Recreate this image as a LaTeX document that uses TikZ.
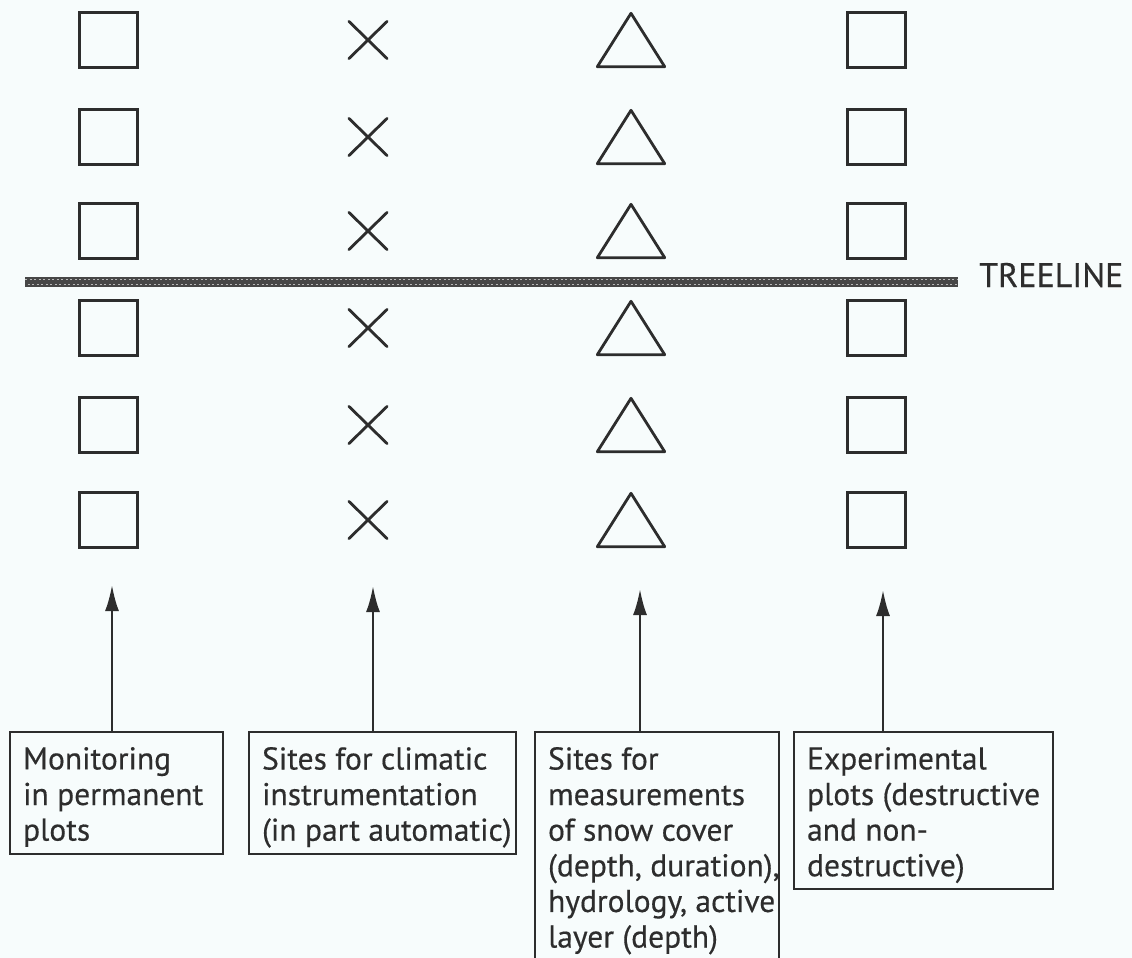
\documentclass[tikz,border=0pt]{standalone}
\usepackage{fontspec}
\setmainfont{PT Sans}[FakeBold=0.4]
\usetikzlibrary{arrows.meta}
\definecolor{ink}{RGB}{45,45,45}
\definecolor{paper}{RGB}{247,252,252}
\begin{document}
\begin{tikzpicture}[x=1pt,y=-1pt,
  sq/.style={draw=ink, line width=3pt, minimum width=58pt, minimum height=55pt, inner sep=0pt},
  crs/.style={minimum width=38pt, minimum height=37pt, inner sep=0pt},
  tri/.style={minimum width=67pt, minimum height=53pt, inner sep=0pt},
  symline/.style={draw=ink, line width=2.8pt, line cap=round, line join=round},
  lbl/.style={draw=ink, line width=2.2pt, anchor=north west, inner xsep=13pt, inner ysep=15pt, text=ink, font=\fontsize{31.5}{35.6}\selectfont},
  arr/.style={draw=ink, line width=2.4pt, -{Latex[length=26pt,width=14pt]}}
]
\fill[paper] (0,0) rectangle (1132,958);
\useasboundingbox (0,0) rectangle (1132,958);
\clip (0,0) rectangle (1132,958);

% symbols
\foreach \r/\y in {1/40,2/137,3/231,4/328,5/425,6/520}{
  \node[sq] (a\r) at (108,\y) {};
  \node[crs] (b\r) at (368,\y) {};
  \node[tri] (c\r) at (631,\y) {};
  \node[sq] (d\r) at (876,\y) {};
  \draw[symline] (b\r.south west) -- (b\r.north east) (b\r.north west) -- (b\r.south east);
  \draw[symline] (c\r.south west) -- (c\r.north) -- (c\r.south east) -- cycle;
}

% treeline
\coordinate (tlA) at (25,282);
\coordinate (tlB) at (958,282);
\draw[line width=10pt, draw=black!72] (tlA) -- (tlB);
\draw[line width=1.1pt, draw=white!72!black, dash pattern=on 2pt off 2.5pt] ([yshift=2.5pt]tlA) -- ([yshift=2.5pt]tlB);
\draw[line width=1.1pt, draw=white!72!black, dash pattern=on 2pt off 2.5pt, dash phase=2pt] ([yshift=-2.5pt]tlA) -- ([yshift=-2.5pt]tlB);
\node[anchor=base west, inner sep=0pt, text=ink, font=\fontsize{34}{40}\selectfont] (tl) at (979,287) {TREELINE};

% label boxes
\node[lbl] (m1) at (9,731) {\parbox[t][92pt][t]{187pt}{\mbox{Monitoring}\\\mbox{in permanent}\\\mbox{plots}}};
\node[lbl] (m2) at (248,731) {\parbox[t][92pt][t]{241pt}{\mbox{Sites for climatic}\\\mbox{instrumentation}\\\mbox{(in part automatic)}}};
\node[lbl] (m3) at (534,731) {\parbox[t][260pt][t]{218pt}{\mbox{Sites for}\\\mbox{measurements}\\\mbox{of snow cover}\\\mbox{(depth, duration),}\\\mbox{hydrology, active}\\\mbox{layer (depth)}}};
\node[lbl] (m4) at (793,731) {\parbox[t][127pt][t]{233pt}{\mbox{Experimental}\\\mbox{plots (destructive}\\\mbox{and non-}\\\mbox{destructive)}}};

% arrows
\coordinate (t1) at (112,585);
\coordinate (t2) at (373,586);
\coordinate (t3) at (640,589);
\coordinate (t4) at (883,590);
\draw[arr] (m1.north -| t1) -- (t1);
\draw[arr] (m2.north -| t2) -- (t2);
\draw[arr] (m3.north -| t3) -- (t3);
\draw[arr] (m4.north -| t4) -- (t4);
\end{tikzpicture}
\end{document}
